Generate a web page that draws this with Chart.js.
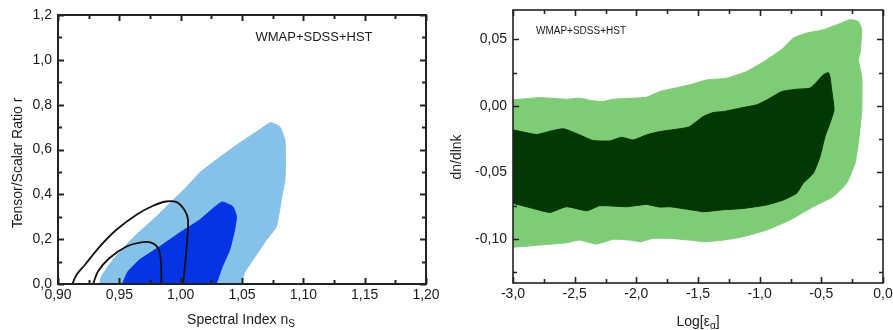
<!DOCTYPE html>
<html><head><meta charset="utf-8">
<script src="https://cdn.jsdelivr.net/npm/chart.js@4/dist/chart.umd.min.js"></script>
<style>
html,body{margin:0;padding:0;background:#fff;overflow:hidden;}
#wrap{position:relative;width:893px;height:330px;}
#c1{position:absolute;left:0;top:0;}
#c2{position:absolute;left:440px;top:0;}
</style></head><body>
<div id="wrap"><canvas id="c1" width="440" height="330"></canvas><canvas id="c2" width="453" height="330"></canvas></div>
<script>
// ---------- data (left panel: r vs n_s) ----------
const nsTicks = [0.90, 0.95, 1.00, 1.05, 1.10, 1.15, 1.20];
const rTicks = [0.0, 0.2, 0.4, 0.6, 0.8, 1.0, 1.2];
const blue95 = [[0.934,0],[0.935,0.03],[0.9447,0.107],[0.961,0.205],[0.980,0.30],[0.994,0.375],[1.005,0.434],[1.0155,0.496],[1.029,0.554],[1.048,0.629],[1.064,0.687],[1.0735,0.72],[1.081,0.70],[1.085,0.642],[1.0855,0.567],[1.085,0.464],[1.082,0.375],[1.078,0.255],[1.070,0.197],[1.059,0.108],[1.052,0.05],[1.0497,0]];
const blue68 = [[0.9525,0],[0.957,0.055],[0.9666,0.108],[0.983,0.167],[0.999,0.228],[1.0155,0.286],[1.029,0.349],[1.034,0.366],[1.0426,0.345],[1.0455,0.30],[1.044,0.242],[1.040,0.153],[1.034,0.078],[1.029,0]];
const line95 = [[0.9117,0],[0.915,0.04],[0.922,0.086],[0.934,0.167],[0.9476,0.242],[0.964,0.309],[0.9775,0.349],[0.988,0.368],[0.9966,0.365],[1.003,0.331],[1.006,0.286],[1.0047,0.153],[1.002,0]];
const line68 = [[0.9286,0],[0.9326,0.056],[0.942,0.116],[0.9558,0.167],[0.9666,0.185],[0.976,0.185],[0.9816,0.16],[0.9838,0.108],[0.9843,0]];

// ---------- data (right panel: dn/dlnk vs Log[eps]) ----------
const epsTicks = [-3.0, -2.5, -2.0, -1.5, -1.0, -0.5, 0.0];
const runTicks = [-0.10, -0.05, 0.00, 0.05];
const green95 = [[-3.0,0.0045],[-2.784,0.0062],[-2.567,0.005],[-2.46,0.0058],[-2.35,0.0038],[-2.27,0.0033],[-2.188,0.005],[-2.026,0.0058],[-1.917,0.0065],[-1.81,0.0108],[-1.728,0.0125],[-1.566,0.0158],[-1.43,0.0195],[-1.268,0.0208],[-1.106,0.0258],[-0.943,0.0346],[-0.808,0.0434],[-0.727,0.0509],[-0.618,0.0547],[-0.484,0.0571],[-0.375,0.0609],[-0.267,0.0647],[-0.20,0.0634],[-0.172,0.0571],[-0.186,0.0396],[-0.20,0.0346],[-0.172,0.022],[-0.172,-0.003],[-0.20,-0.028],[-0.227,-0.043],[-0.294,-0.058],[-0.402,-0.068],[-0.565,-0.0757],[-0.754,-0.0857],[-0.943,-0.0932],[-1.133,-0.0982],[-1.295,-0.1008],[-1.458,-0.102],[-1.566,-0.1008],[-1.728,-0.0995],[-1.864,-0.0995],[-1.97,-0.102],[-2.053,-0.1008],[-2.188,-0.1002],[-2.324,-0.1038],[-2.46,-0.1008],[-2.567,-0.1028],[-2.784,-0.1045],[-3.0,-0.1062]];
const green68 = [[-3.0,-0.018],[-2.81,-0.0215],[-2.70,-0.019],[-2.59,-0.0172],[-2.459,-0.0218],[-2.35,-0.026],[-2.215,-0.0263],[-2.12,-0.0236],[-2.026,-0.0256],[-1.917,-0.0218],[-1.81,-0.0193],[-1.62,-0.0168],[-1.566,-0.0155],[-1.458,-0.008],[-1.377,-0.005],[-1.295,-0.0043],[-1.16,-0.0017],[-1.024,0.0008],[-0.916,0.0058],[-0.822,0.0108],[-0.70,0.0125],[-0.592,0.0133],[-0.537,0.018],[-0.484,0.0233],[-0.443,0.025],[-0.43,0.022],[-0.416,0.012],[-0.397,-0.003],[-0.43,-0.013],[-0.47,-0.023],[-0.51,-0.038],[-0.565,-0.0506],[-0.646,-0.058],[-0.70,-0.0656],[-0.808,-0.0707],[-0.943,-0.0744],[-1.133,-0.077],[-1.295,-0.078],[-1.458,-0.0795],[-1.51,-0.0787],[-1.728,-0.0757],[-1.81,-0.076],[-1.917,-0.074],[-2.08,-0.0757],[-2.24,-0.075],[-2.30,-0.075],[-2.40,-0.0787],[-2.567,-0.0757],[-2.70,-0.080],[-2.838,-0.077],[-3.0,-0.0732]];

const FONT = '"Liberation Sans", Arial, sans-serif';
const toXY = a => a.map(p => ({x: p[0], y: p[1]}));
const isMajor = (v, list) => list.some(t => Math.abs(t - v) < 1e-6);
const fmt = (v, d) => (Math.abs(v) < 1e-9 ? 0 : v).toFixed(d).replace('.', ',');

// frame + inward ticks
const framePlugin = {
  id: 'frame',
  afterDatasetsDraw(chart, args, o) {
    const {ctx, chartArea: a, scales: {x, y}} = chart;
    ctx.save();
    ctx.strokeStyle = o.color; ctx.lineWidth = o.width;
    ctx.beginPath();
    x.ticks.forEach(t => {
      const px = Math.round(x.getPixelForValue(t.value)) + 0.5;
      const L = isMajor(t.value, o.xMajor) ? 6 : 4;
      ctx.moveTo(px, a.bottom); ctx.lineTo(px, a.bottom - L);
      ctx.moveTo(px, a.top); ctx.lineTo(px, a.top + L);
    });
    y.ticks.forEach(t => {
      const py = Math.round(y.getPixelForValue(t.value)) + 0.5;
      const L = isMajor(t.value, o.yMajor) ? 6 : 4;
      ctx.moveTo(a.left, py); ctx.lineTo(a.left + L, py);
      ctx.moveTo(a.right, py); ctx.lineTo(a.right - L, py);
    });
    ctx.stroke();
    ctx.strokeRect(a.left, a.top, a.right - a.left, a.bottom - a.top);
    ctx.restore();
  }
};

function drawRich(ctx, parts, cx, cy, size) {
  let w = 0;
  parts.forEach(p => { ctx.font = (p.sub ? size * 0.72 : size) + 'px ' + FONT; p.w = ctx.measureText(p.t).width; w += p.w; });
  let x = cx - w / 2;
  ctx.textBaseline = 'middle'; ctx.textAlign = 'left';
  parts.forEach(p => { ctx.font = (p.sub ? size * 0.72 : size) + 'px ' + FONT; ctx.fillText(p.t, x, cy + (p.sub ? size * 0.3 : 0)); x += p.w; });
}

const textPlugin = {
  id: 'texts',
  afterDraw(chart, args, o) {
    const ctx = chart.ctx;
    ctx.save();
    ctx.fillStyle = '#1a1a1a';
    drawRich(ctx, o.xTitle, o.xPos[0], o.xPos[1], 14);
    ctx.save(); ctx.translate(o.yPos[0], o.yPos[1]); ctx.rotate(-Math.PI / 2);
    drawRich(ctx, [{t: o.yTitle}], 0, 0, 14);
    ctx.restore();
    drawRich(ctx, [{t: o.note}], o.notePos[0], o.notePos[1], o.noteSize);
    ctx.restore();
  }
};

function fillSet(data, color) {
  return {data: toXY(data), backgroundColor: color, borderColor: color, borderWidth: 1, fill: 'shape', pointRadius: 0, tension: 0.15};
}
function lineSet(data) {
  return {data: toXY(data), borderColor: '#111', borderWidth: 1.8, fill: false, pointRadius: 0, tension: 0.3};
}

function axis(min, max, step, majors, dec, pad, fitFn) {
  return {
    type: 'linear', min, max,
    grid: {display: false, drawTicks: false}, border: {display: false},
    ticks: {stepSize: step, includeBounds: false, autoSkip: false, maxRotation: 0, padding: pad,
      color: '#1a1a1a', font: {family: FONT, size: 14},
      callback: v => isMajor(v, majors) ? fmt(v, dec) : ''},
    afterFit: fitFn
  };
}

new Chart(document.getElementById('c1'), {
  type: 'line',
  data: {datasets: [lineSet(line95), lineSet(line68), fillSet(blue68, 'rgb(4,52,228)'), fillSet(blue95, 'rgb(133,193,232)')]},
  options: {
    responsive: false, animation: false, events: [],
    layout: {padding: {top: 15, right: 14, left: 0, bottom: 0}},
    plugins: {legend: {display: false}, tooltip: {enabled: false},
      frame: {color: '#222', width: 2, xMajor: nsTicks, yMajor: rTicks},
      texts: {xTitle: [{t: 'Spectral Index n'}, {t: 'S', sub: true}], xPos: [241, 320],
              yTitle: 'Tensor/Scalar Ratio r', yPos: [18, 163],
              note: 'WMAP+SDSS+HST', notePos: [314, 37], noteSize: 13}},
    scales: {
      x: axis(0.9, 1.2, 0.025, nsTicks, 2, 3, s => { s.height = 46; s.paddingLeft = 0; s.paddingRight = 0; }),
      y: axis(0, 1.2, 0.1, rTicks, 1, 6, s => { s.width = 58; s.paddingTop = 0; s.paddingBottom = 0; })
    }
  },
  plugins: [framePlugin, textPlugin]
});

new Chart(document.getElementById('c2'), {
  type: 'line',
  data: {datasets: [fillSet(green68, 'rgb(2,56,3)'), fillSet(green95, 'rgb(126,204,118)')]},
  options: {
    responsive: false, animation: false, events: [],
    layout: {padding: {top: 10, right: 10, left: 0, bottom: 0}},
    plugins: {legend: {display: false}, tooltip: {enabled: false},
      frame: {color: '#222', width: 1.6, xMajor: epsTicks, yMajor: runTicks},
      texts: {xTitle: [{t: 'Log[ε'}, {t: 'α', sub: true}, {t: ']'}], xPos: [258, 322],
              yTitle: 'dn/dlnk', yPos: [17, 157],
              note: 'WMAP+SDSS+HST', notePos: [141, 31], noteSize: 10}},
    scales: {
      x: axis(-3, 0, 0.25, epsTicks, 1, 3, s => { s.height = 47; s.paddingLeft = 0; s.paddingRight = 0; }),
      y: axis(-0.133, 0.072, 0.025, runTicks, 2, 6, s => { s.width = 73; s.paddingTop = 0; s.paddingBottom = 0; })
    }
  },
  plugins: [framePlugin, textPlugin]
});
</script>
</body></html>
